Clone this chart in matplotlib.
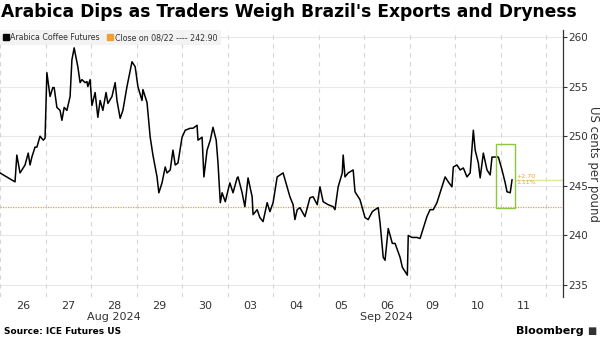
import matplotlib
matplotlib.use('Agg')
import matplotlib.pyplot as plt
from matplotlib.lines import Line2D
from matplotlib.patches import Rectangle
import numpy as np

# trading-day time (days since Aug 26 open) and price
t = [0.00, 0.33, 0.37, 0.44, 0.55, 0.62, 0.66, 0.70, 0.77, 0.81, 0.88, 0.95, 0.99,
     1.03, 1.10, 1.16, 1.19, 1.25, 1.32, 1.36, 1.41, 1.47, 1.54, 1.58, 1.63, 1.65,
     1.71, 1.76, 1.80, 1.87, 1.91, 1.93, 1.98, 2.02, 2.09, 2.15, 2.20, 2.26, 2.33,
     2.37, 2.46, 2.53, 2.57, 2.64, 2.70, 2.79, 2.90, 2.97, 3.03, 3.12, 3.14, 3.23,
     3.30, 3.36, 3.45, 3.49, 3.56, 3.63, 3.67, 3.74, 3.80, 3.85, 3.91, 4.00, 4.07,
     4.18, 4.24, 4.33, 4.35, 4.44, 4.48, 4.55, 4.62, 4.68, 4.75, 4.79, 4.84, 4.88,
     4.95, 5.05, 5.12, 5.21, 5.23, 5.32, 5.38, 5.45, 5.54, 5.56, 5.65, 5.71, 5.78,
     5.87, 5.93, 6.00, 6.09, 6.22, 6.37, 6.44, 6.48, 6.53, 6.59, 6.70, 6.81, 6.88,
     6.97, 7.03, 7.10, 7.21, 7.32, 7.36, 7.43, 7.52, 7.54, 7.58, 7.65, 7.76, 7.80,
     7.91, 8.02, 8.09, 8.18, 8.24, 8.31, 8.35, 8.42, 8.46, 8.53, 8.62, 8.68, 8.79,
     8.84, 8.95, 8.97, 9.05, 9.16, 9.23, 9.38, 9.45, 9.52, 9.60, 9.67, 9.78, 9.85,
     9.93, 9.96, 10.04, 10.11, 10.18, 10.26, 10.33, 10.40, 10.44, 10.51, 10.55,
     10.62, 10.70, 10.77, 10.81, 10.88, 10.95, 11.03, 11.10, 11.14, 11.21, 11.25]
price = [246.3, 245.4, 248.1, 246.3, 247.1, 248.3, 247.1, 247.9, 248.9, 248.9, 250.0, 249.6, 249.8,
         256.4, 254.0, 254.9, 254.9, 252.9, 252.6, 251.6, 252.9, 252.6, 254.0, 257.7, 258.9, 258.4,
         257.0, 255.4, 255.7, 255.4, 255.5, 255.0, 255.7, 253.1, 254.4, 251.9, 253.6, 252.6, 254.4,
         253.3, 254.0, 255.4, 253.6, 251.8, 252.6, 255.0, 257.5, 257.0, 255.0, 253.6, 254.7, 253.4,
         249.9, 248.1, 245.9, 244.3, 245.3, 246.9, 246.3, 246.6, 248.6, 247.1, 247.3, 249.9, 250.6,
         250.8, 250.8, 251.1, 249.6, 249.9, 245.9, 248.6, 249.6, 250.9, 249.6, 247.3, 243.3, 244.3,
         243.4, 245.3, 244.3, 245.8, 245.9, 244.3, 242.9, 245.8, 243.9, 242.1, 242.6, 241.8, 241.4,
         243.3, 242.4, 243.3, 245.9, 246.3, 243.9, 243.1, 241.6, 242.6, 242.8, 241.9, 243.8, 243.9,
         243.1, 244.9, 243.4, 243.1, 242.9, 242.6, 244.9, 246.3, 248.1, 245.9, 246.3, 246.6, 244.4,
         243.6, 241.8, 241.6, 242.4, 242.6, 242.8, 241.3, 237.8, 237.5, 240.7, 239.2, 239.2, 237.8,
         236.8, 236.0, 240.0, 239.8, 239.8, 239.7, 241.9, 242.6, 242.6, 243.3, 244.3, 245.9, 245.4,
         244.9, 246.9, 247.1, 246.6, 246.8, 245.9, 246.3, 250.6, 248.6, 247.3, 245.8,
         248.3, 246.6, 246.1, 247.9, 247.9, 247.9, 246.6, 245.3, 244.4, 244.3, 245.6]

days = ['26', '27', '28', '29', '30', '03', '04', '05', '06', '09', '10', '11']
months = {2: 'Aug 2024', 8: 'Sep 2024'}
close_ref = 242.90
last_price = 245.60
last_day_range = [242.75, 249.2]
change_text = ['+2.70', '1.11%']

fig = plt.figure(figsize=(6, 3.38), dpi=100)
ax = fig.add_axes([0.0, 41 / 338, 563 / 600, 267 / 338])

ax.set_xlim(0, 12.37)
ax.set_ylim(233.8, 260.7)

# grid
for y in range(235, 261, 5):
    ax.axhline(y, color='#e8e8e8', lw=0.8, zorder=0)
for i in range(len(days) + 1):
    ax.axvline(i, color='#d6d6d6', lw=0.8, ls=(0, (4, 4)), zorder=0)

ax.axhline(close_ref, color='#f0a030', lw=0.9, ls=(0, (1, 1)), zorder=1)
ax.plot(t, price, color='black', lw=1.1, zorder=3)

# last-day box and marker line
x0 = 10.9
ax.add_patch(Rectangle((x0, last_day_range[0]), 0.42, last_day_range[1] - last_day_range[0],
                       fill=False, ec='#8cc63e', lw=1.0, zorder=4))
ax.plot([x0 + 0.42, 12.37], [last_price, last_price], color='#dfe6a0', lw=1.0, zorder=2)
ax.text(x0 + 0.44, last_price + 0.05, change_text[0], fontsize=4.5, color='#f0a030',
        va='bottom', ha='left')
ax.text(x0 + 0.44, last_price - 0.05, change_text[1], fontsize=4.5, color='#f0a030',
        va='top', ha='left')

# axes styling
for s in ['top', 'left', 'bottom']:
    ax.spines[s].set_visible(False)
ax.spines['right'].set_color('#333333')
ax.spines['right'].set_linewidth(0.9)
ax.yaxis.tick_right()
ax.set_yticks(range(235, 261, 5))
ax.tick_params(axis='y', length=3, width=0.8, colors='#333333', labelsize=7.5, pad=1)
ax.yaxis.set_label_position('right')
ax.set_ylabel('US cents per pound', rotation=270, fontsize=8.5, color='#333333',
              va='center')
ax.yaxis.set_label_coords(1.055, 0.5)

ax.set_xticks(np.arange(len(days)) + 0.5)
labels = [d + ('\n' + months[i] if i in months else '') for i, d in enumerate(days)]
ax.set_xticklabels(labels, fontsize=8, color='#333333', va='top', linespacing=1.05)
ax.tick_params(axis='x', length=0, pad=3)

# legend
handles = [Line2D([], [], marker='s', color='black', ls='', markersize=4),
           Line2D([], [], marker='s', color='#f0a030', ls='', markersize=4)]
leg = ax.legend(handles, ['Arabica Coffee Futures', 'Close on 08/22 ---- 242.90'],
                loc='upper left', ncol=2, fontsize=5.7, frameon=True, fancybox=False,
                borderaxespad=0, handlelength=0.6, handletextpad=0.3, columnspacing=1.0,
                borderpad=0.4)
leg.get_frame().set_facecolor('#f0f0f0')
leg.get_frame().set_edgecolor('none')
for txt in leg.get_texts():
    txt.set_color('#333333')

fig.text(0.002, 0.99, "Arabica Dips as Traders Weigh Brazil's Exports and Dryness",
         fontsize=12.3, fontweight='bold', va='top', ha='left')
fig.text(0.006, 0.02, 'Source: ICE Futures US', fontsize=6.5, fontweight='bold',
         va='center', ha='left')
fig.text(0.972, 0.022, 'Bloomberg', fontsize=8, fontweight='bold', va='center', ha='right')
fig.text(0.978, 0.022, '\u25a0', fontsize=7, color='#333333', va='center', ha='left')

fig.savefig('out.png', dpi=100)
